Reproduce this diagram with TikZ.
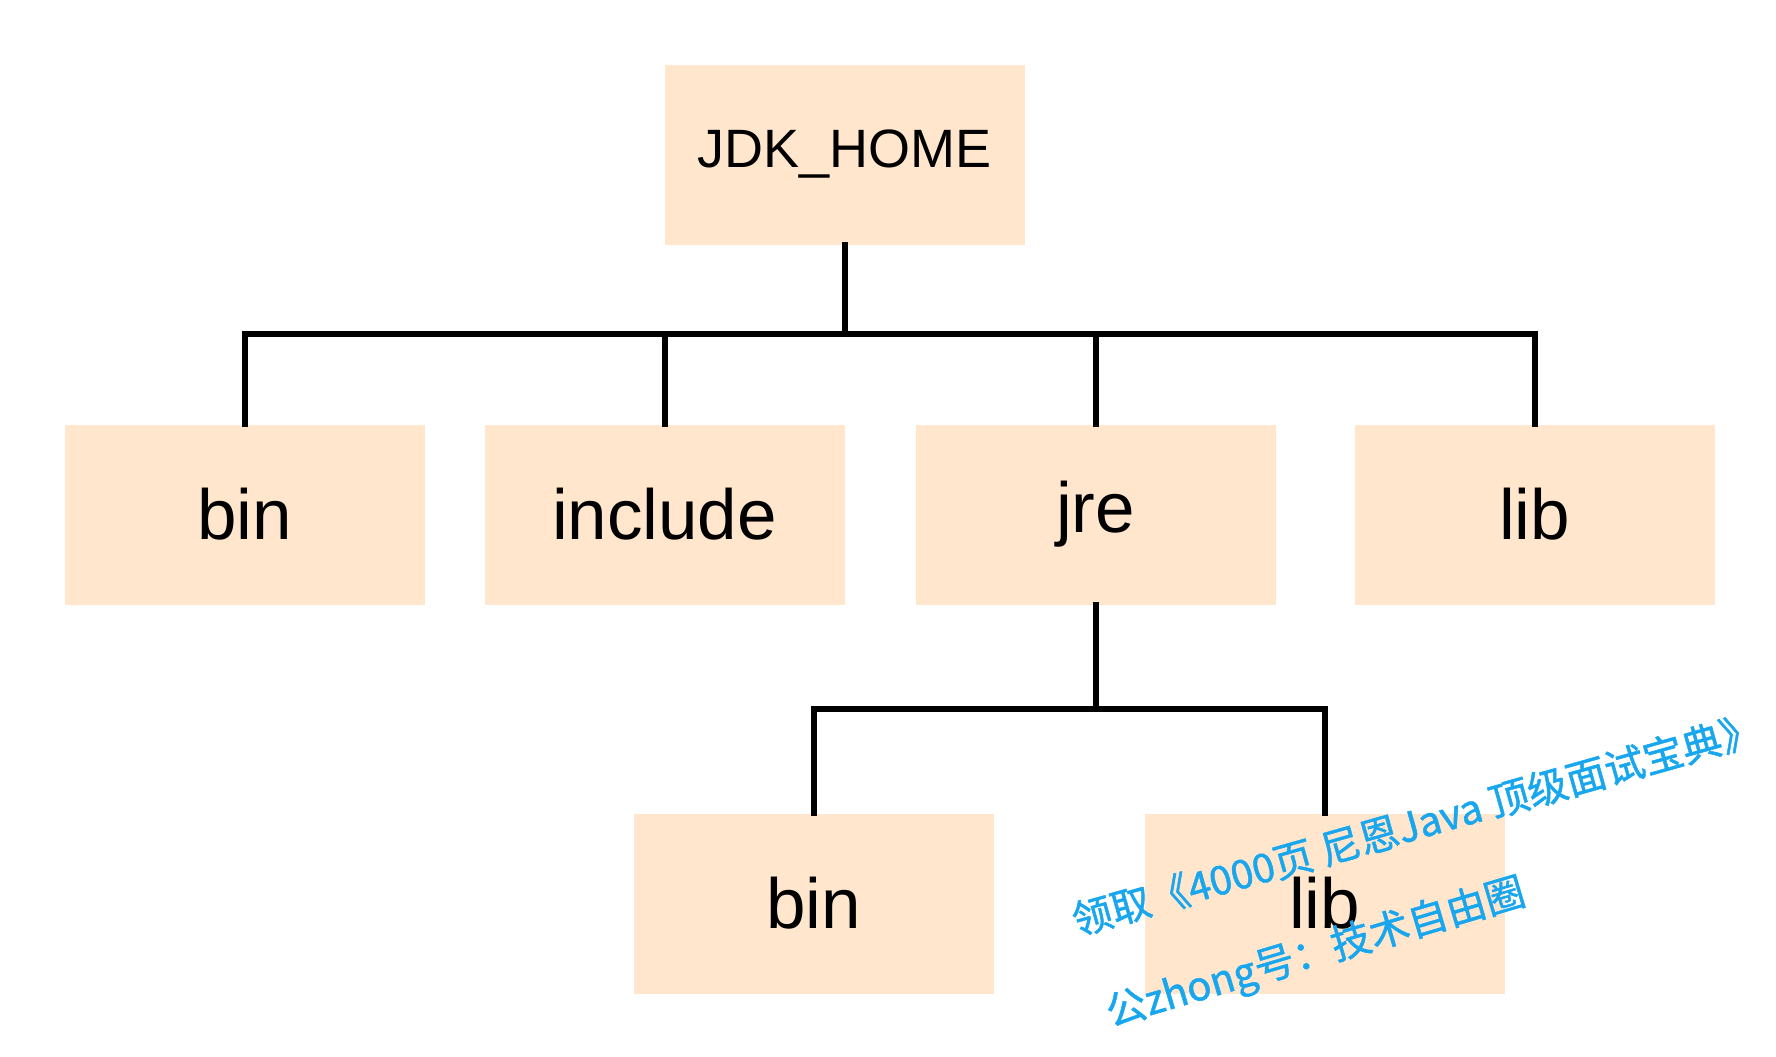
\documentclass[tikz,border=0pt]{standalone}
\usepackage{fontspec}
\setmainfont{Liberation Sans}
\newfontfamily\cjk[FakeBold=1.2]{Noto Sans CJK SC}
\definecolor{boxfill}{HTML}{FFE6CC}
\definecolor{wmblue}{RGB}{24,166,238}
\begin{document}
\begin{tikzpicture}[x=0.5pt,y=-0.5pt,
  box/.style={fill=boxfill,draw=none,minimum width=180pt,minimum height=90pt,inner sep=0pt,font=\fontsize{35.5pt}{40pt}\selectfont},
  topbox/.style={box,font=\fontsize{27pt}{32pt}\selectfont},
  conn/.style={line width=3pt,draw=black,line cap=rect},
  wm/.style={text=wmblue,font=\cjk\fontsize{20pt}{24pt}\selectfont,inner sep=0pt}]
\useasboundingbox (0,0) rectangle (1776,1056);
\node[topbox] (jdk) at (844.5,154.5) {JDK\_HOME};
\node[box] (bin) at (244.5,514.5) {bin};
\node[box] (inc) at (664.5,514.5) {include};
\node[box] (jre) at (1095.5,514.5) {jre};
\node[box] (lib) at (1534.5,514.5) {lib};
\node[box] (bintwo) at (813.5,903.5) {bin};
\node[box] (libtwo) at (1324.5,903.5) {lib};
\coordinate (bus) at (0,334);
\coordinate (bustwo) at (0,709);
\draw[conn] (bin.north) -- (bin.north |- bus) -- (lib.north |- bus) -- (lib.north);
\draw[conn] (inc.north) -- (inc.north |- bus);
\draw[conn] (jre.north) -- (jre.north |- bus);
\draw[conn] (jdk.south) -- (jdk.south |- bus);
\draw[conn] (jre.south) -- (jre.south |- bustwo);
\draw[conn] (bintwo.north) -- (bintwo.north |- bustwo) -- (libtwo.north |- bustwo) -- (libtwo.north);
\node[wm,rotate=15.8] (wmone) at (1416,824) {领取《4000页 尼恩Java 顶级面试宝典》};
\node[wm,rotate=16.5] (wmtwo) at (1316,954) {公zhong号：技术自由圈};
\end{tikzpicture}
\end{document}
